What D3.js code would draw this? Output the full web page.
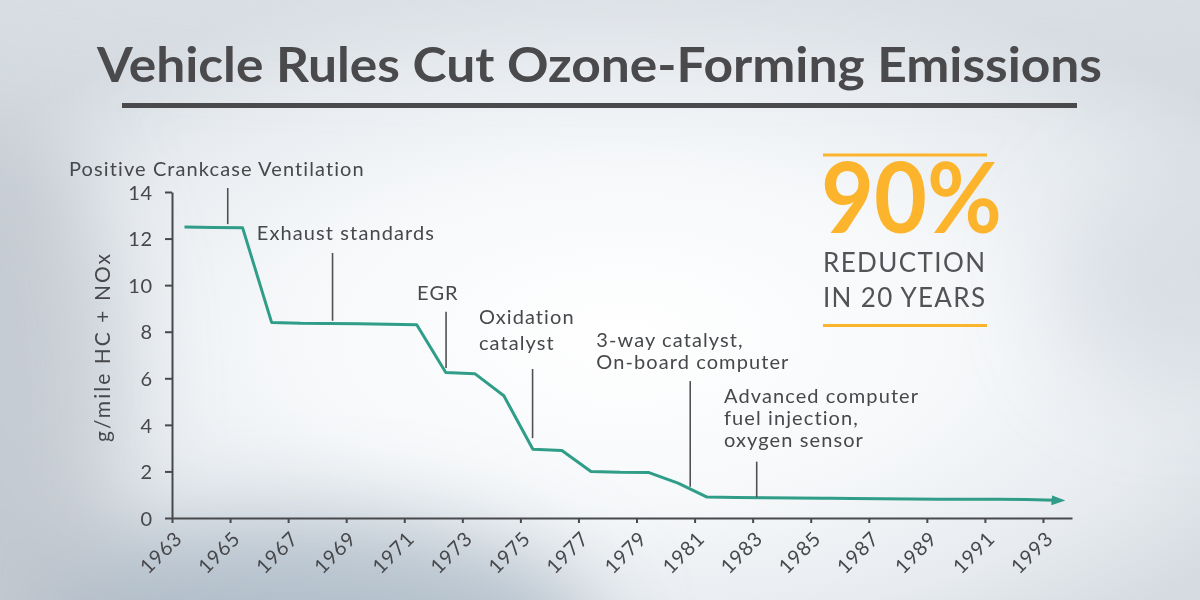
<!DOCTYPE html>
<meta charset="utf-8">
<style>
  body { margin: 0; background: #e6eaee; }
  svg { display: block; font-family: Lato, "Open Sans", sans-serif; }
  .axis path, .axis line { fill: none; stroke: #48494c; stroke-width: 2px; }
  .axis text { font-size: 20px; fill: #47484b; letter-spacing: 0.8px; font-family: Lato, sans-serif; }
  .note text { font-size: 20px; fill: #47484b; letter-spacing: 1.1px; }
  .note line { stroke: #505154; stroke-width: 1.6px; }
</style>
<body>
<script src="https://d3js.org/d3.v7.min.js"></script>
<script>

    var width = 1200,
        height = 600;

    // model years and emissions (g/mile HC + NOx)
    var years = [1963, 1964, 1965, 1966, 1967, 1968, 1969, 1970, 1971, 1972,
                 1973, 1974, 1975, 1976, 1977, 1978, 1979, 1980, 1981, 1982,
                 1983, 1984, 1985, 1986, 1987, 1988, 1989, 1990, 1991, 1992, 1993];
    var emissions = [12.5, 12.48, 12.47, 8.4, 8.36, 8.35, 8.34, 8.32, 8.3, 6.25,
                     6.2, 5.25, 2.95, 2.9, 2.0, 1.96, 1.95, 1.5, 0.9, 0.88,
                     0.87, 0.86, 0.85, 0.84, 0.83, 0.82, 0.81, 0.8, 0.8, 0.79, 0.76];

    var xTicks = [1963, 1965, 1967, 1969, 1971, 1973, 1975, 1977,
                  1979, 1981, 1983, 1985, 1987, 1989, 1991, 1993];
    var yTicks = [0, 2, 4, 6, 8, 10, 12, 14];

    // technology annotations
    var noteYears = [1964.92, 1968.53, 1972.44, 1975.42, 1980.85, 1983.14];
    var noteLabels = [
        ["Positive Crankcase Ventilation"],
        ["Exhaust standards"],
        ["EGR"],
        ["Oxidation", "catalyst"],
        ["3-way catalyst,", "On-board computer"],
        ["Advanced computer", "fuel injection,", "oxygen sensor"]
    ];
    var noteTop = [14.17, 11.38, 8.86, 6.4, 5.88, 2.42];
    var noteBottom = [12.62, 8.47, 6.44, 3.43, 1.34, 0.89];

    var title = "Vehicle Rules Cut Ozone-Forming Emissions";
    var bigStat = "90%";
    var statLines = ["REDUCTION", "IN 20 YEARS"];
    var yLabel = "g/mile HC + NOx";

    // label placement relative to top of leader line (px)
    var noteLayout = [
        {dx: -158.7, dy: -12, lh: 0},
        {dx: -75.7, dy: -13, lh: 0},
        {dx: -29, dy: -11.7, lh: 0},
        {dx: -53.7, dy: -44.7, lh: 25.7},
        {dx: -94, dy: -34.3, lh: 22},
        {dx: -32.7, dy: -58.4, lh: 22}
    ];

    var teal = "#2f9d87",
        gold = "#fbb42c",
        ink = "#4a4a4d";

    var svg = d3.select("body").append("svg")
        .attr("width", width)
        .attr("height", height);

    var defs = svg.append("defs");

    var glow = defs.append("radialGradient")
        .attr("id", "glow")
        .attr("cx", 0.52).attr("cy", 0.56).attr("r", 0.62);
    glow.append("stop").attr("offset", "0%").attr("stop-color", "#ffffff");
    glow.append("stop").attr("offset", "45%").attr("stop-color", "#f6f8fa");
    glow.append("stop").attr("offset", "78%").attr("stop-color", "#e7ebef");
    glow.append("stop").attr("offset", "100%").attr("stop-color", "#d5dbe1");

    defs.append("filter")
        .attr("id", "blur")
        .attr("x", "-50%").attr("y", "-50%").attr("width", "200%").attr("height", "200%")
        .append("feGaussianBlur").attr("stdDeviation", 45);

    defs.append("marker")
        .attr("id", "arrow")
        .attr("markerUnits", "userSpaceOnUse")
        .attr("viewBox", "0 0 14 10")
        .attr("markerWidth", 14)
        .attr("markerHeight", 10)
        .attr("refX", 4)
        .attr("refY", 5)
        .attr("orient", "auto")
        .append("path")
        .attr("d", "M0,0L14,5L0,10Z")
        .attr("fill", teal);

    // background
    svg.append("rect")
        .attr("width", width).attr("height", height)
        .attr("fill", "url(#glow)");

    var haze = svg.append("g").attr("filter", "url(#blur)");
    haze.append("ellipse")
        .attr("cx", 300).attr("cy", 640).attr("rx", 300).attr("ry", 120)
        .attr("fill", "#a7b5c3").attr("opacity", 0.8);
    haze.append("ellipse")
        .attr("cx", 0).attr("cy", 400).attr("rx", 120).attr("ry", 280)
        .attr("fill", "#bcc3cb").attr("opacity", 0.75);
    haze.append("ellipse")
        .attr("cx", 1180).attr("cy", 280).attr("rx", 120).attr("ry", 110)
        .attr("fill", "#d3d9df").attr("opacity", 0.7);
    haze.append("ellipse")
        .attr("cx", 600).attr("cy", -20).attr("rx", 700).attr("ry", 50)
        .attr("fill", "#dde2e7").attr("opacity", 0.8);

    // title
    svg.append("text")
        .attr("x", 97)
        .attr("y", 82)
        .attr("textLength", 1005)
        .attr("lengthAdjust", "spacingAndGlyphs")
        .style("font-size", "48px")
        .style("font-weight", 700)
        .style("fill", ink)
        .text(title);

    svg.append("rect")
        .attr("x", 122).attr("y", 103)
        .attr("width", 955).attr("height", 5)
        .attr("fill", ink);

    // scales
    var x = d3.scaleLinear()
        .domain([1963, 1994])
        .range([172, 1072]);

    var y = d3.scaleLinear()
        .domain([0, 14])
        .range([518, 192]);

    var offset = 0.43; // values plotted near mid model-year

    var xAxis = d3.axisBottom(x)
        .tickValues(xTicks)
        .tickFormat(d3.format("d"))
        .tickSize(5)
        .tickSizeOuter(0);

    var yAxis = d3.axisLeft(y)
        .tickValues(yTicks)
        .tickSize(7)
        .tickPadding(12)
        .tickSizeOuter(0);

    var gx = svg.append("g")
        .attr("class", "x axis")
        .attr("transform", "translate(0," + y(0) + ")")
        .call(xAxis);

    gx.selectAll("text")
        .attr("x", 0)
        .attr("y", 0)
        .attr("dy", "0.35em")
        .attr("text-anchor", "end")
        .attr("transform", "translate(6,17) rotate(-45)");

    var gy = svg.append("g")
        .attr("class", "y axis")
        .attr("transform", "translate(" + x(1963) + ",0)")
        .call(yAxis);

    gy.selectAll("text").attr("dy", "0.36em");

    svg.append("text")
        .attr("transform", "translate(110,348) rotate(-90)")
        .attr("text-anchor", "middle")
        .attr("textLength", 188)
        .attr("lengthAdjust", "spacing")
        .style("font-size", "21px")
        .style("fill", "#47484b")
        .text(yLabel);

    // emissions line
    var line = d3.line()
        .x(function(d, i) { return x(years[i] + offset); })
        .y(function(d) { return y(d); });

    svg.append("path")
        .datum(emissions)
        .attr("d", line)
        .attr("fill", "none")
        .attr("stroke", teal)
        .attr("stroke-width", 3)
        .attr("stroke-linejoin", "round")
        .attr("marker-end", "url(#arrow)");

    // annotations
    var notes = svg.append("g")
        .attr("class", "note")
        .selectAll("g")
        .data(noteYears)
        .enter().append("g");

    notes.append("line")
        .attr("x1", function(d) { return x(d); })
        .attr("x2", function(d) { return x(d); })
        .attr("y1", function(d, i) { return y(noteTop[i]); })
        .attr("y2", function(d, i) { return y(noteBottom[i]); });

    notes.each(function(d, i) {
        var lay = noteLayout[i];
        d3.select(this).selectAll("text")
            .data(noteLabels[i])
            .enter().append("text")
            .attr("x", x(d) + lay.dx)
            .attr("y", function(t, j) { return y(noteTop[i]) + lay.dy + j * lay.lh; })
            .text(function(t) { return t; });
    });

    // stat block
    var stat = svg.append("g");

    stat.append("rect")
        .attr("x", 823).attr("y", 153.5)
        .attr("width", 164).attr("height", 3)
        .attr("fill", gold);

    stat.append("text")
        .attr("x", 821)
        .attr("y", 233)
        .attr("textLength", 181)
        .attr("lengthAdjust", "spacingAndGlyphs")
        .style("font-size", "97px")
        .style("font-weight", 700)
        .style("fill", gold)
        .text(bigStat);

    stat.selectAll(".statline")
        .data(statLines)
        .enter().append("text")
        .attr("class", "statline")
        .attr("x", 823)
        .attr("y", function(d, i) { return 272 + i * 34.7; })
        .attr("textLength", 162)
        .attr("lengthAdjust", "spacing")
        .style("font-size", "26px")
        .style("fill", "#535357")
        .text(function(d) { return d; });

    stat.append("rect")
        .attr("x", 823).attr("y", 324)
        .attr("width", 164).attr("height", 3)
        .attr("fill", gold);

</script>
